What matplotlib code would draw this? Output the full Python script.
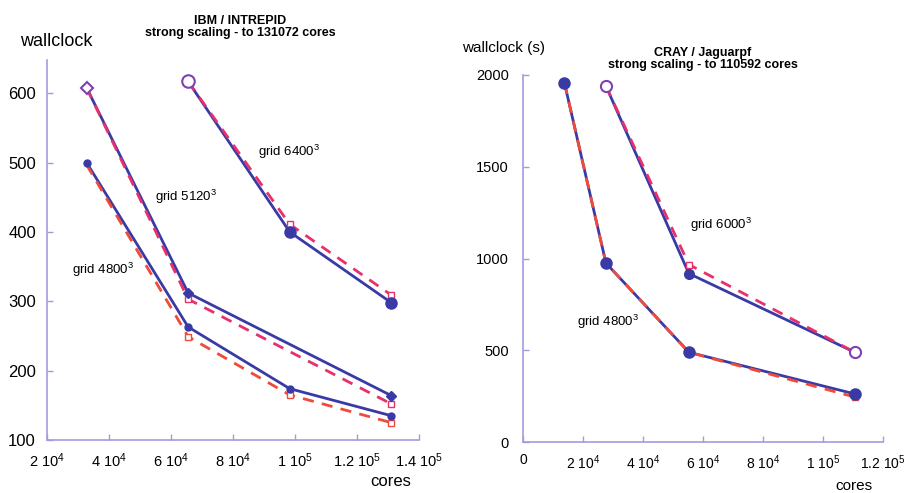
import numpy as np
import matplotlib
matplotlib.use('Agg')
import matplotlib.pyplot as plt
from matplotlib.ticker import FixedLocator, FixedFormatter

plt.rcParams['font.family'] = ['Liberation Sans', 'DejaVu Sans']
plt.rcParams['mathtext.fontset'] = 'custom'
plt.rcParams['mathtext.rm'] = 'Liberation Sans'
plt.rcParams['mathtext.it'] = 'Liberation Sans'

# IBM / INTREPID data
ibm_cores_4800 = [32768, 65536, 98304, 131072]
ibm_4800_meas = [500, 263, 174, 135]
ibm_4800_ideal = [497, 249, 165, 125]
ibm_cores_5120 = [32768, 65536, 131072]
ibm_5120_meas = [608, 312, 164]
ibm_5120_ideal = [608, 303, 152]
ibm_cores_6400 = [65536, 98304, 131072]
ibm_6400_meas = [617, 400, 298]
ibm_6400_ideal = [617, 411, 309]

# CRAY / Jaguarpf data
cray_cores_4800 = [13824, 27648, 55296, 110592]
cray_4800_meas = [1956, 975, 489, 262]
cray_4800_ideal = [1956, 975, 489, 245]
cray_cores_6000 = [27648, 55296, 110592]
cray_6000_meas = [1940, 918, 489]
cray_6000_ideal = [1940, 967, 489]

ibm_xticks = [20000, 40000, 60000, 80000, 100000, 120000, 140000]
ibm_xlabels = ['2 10$^4$', '4 10$^4$', '6 10$^4$', '8 10$^4$', '1 10$^5$', '1.2 10$^5$', '1.4 10$^5$']
ibm_yticks = [100, 200, 300, 400, 500, 600]
cray_xticks = [0, 20000, 40000, 60000, 80000, 100000, 120000]
cray_xlabels = ['0', '2 10$^4$', '4 10$^4$', '6 10$^4$', '8 10$^4$', '1 10$^5$', '1.2 10$^5$']
cray_yticks = [0, 500, 1000, 1500, 2000]

blue = '#3a3aa6'
orange = '#f04a38'
pink = '#e8306c'
spine = '#a09ddc'

W, H = 905, 493
fig = plt.figure(figsize=(W / 100, H / 100), dpi=100)


def style(ax, xt, xl, yt):
    for s in ['top', 'right']:
        ax.spines[s].set_visible(False)
    for s in ['left', 'bottom']:
        ax.spines[s].set_color(spine)
        ax.spines[s].set_linewidth(1.2)
    ax.xaxis.set_major_locator(FixedLocator(xt))
    ax.xaxis.set_major_formatter(FixedFormatter(xl))
    ax.set_yticks(yt)
    ax.tick_params(direction='in', color=spine, length=4, width=1, labelsize=10.5, pad=8)


def series(ax, x, meas, ideal, rcol, mk, ms, open_idx=()):
    # measured (solid blue) line, ideal (dashed) on top, then blue markers
    ax.plot(x, meas, '-', color=blue, lw=2, zorder=3, clip_on=False)
    ax.plot(x, ideal, '--', color=rcol, lw=2, dashes=(4, 3), marker='s', ms=5,
            mfc='white', mec=rcol, mew=1, markevery=slice(1, None), zorder=4, clip_on=False)
    filled = [i for i in range(len(x)) if i not in open_idx]
    ax.plot([x[i] for i in filled], [meas[i] for i in filled], linestyle='none',
            marker=mk, ms=ms, color=blue, zorder=5, clip_on=False)
    if open_idx:
        ax.plot([x[i] for i in open_idx], [meas[i] for i in open_idx], linestyle='none',
                marker=mk, ms=ms + 1, mfc='white', mec='#8040b0', mew=1.5, zorder=5,
                clip_on=False)


# left panel
ax1 = fig.add_axes([47 / W, 1 - 440 / H, 372 / W, 380 / H])
series(ax1, ibm_cores_4800, ibm_4800_meas, ibm_4800_ideal, orange, 'o', 5)
series(ax1, ibm_cores_5120, ibm_5120_meas, ibm_5120_ideal, pink, 'D', 5, open_idx=(0,))
series(ax1, ibm_cores_6400, ibm_6400_meas, ibm_6400_ideal, pink, 'o', 8, open_idx=(0,))
ax1.set_xlim(20000, 140000)
ax1.set_ylim(100, 648)
style(ax1, ibm_xticks, ibm_xlabels, ibm_yticks)
ax1.tick_params(axis='y', labelsize=12)
ax1.text(88000, 515, 'grid 6400$^3$', fontsize=9.5, va='center')
ax1.text(54800, 451, 'grid 5120$^3$', fontsize=9.5, va='center')
ax1.text(28000, 345, 'grid 4800$^3$', fontsize=9.5, va='center')

# right panel
ax2 = fig.add_axes([523 / W, 1 - 442 / H, 360 / W, 367 / H])
series(ax2, cray_cores_4800, cray_4800_meas, cray_4800_ideal, orange, 'o', 8)
series(ax2, cray_cores_6000, cray_6000_meas, cray_6000_ideal, pink, 'o', 7, open_idx=(0, 2))
ax2.set_xlim(0, 120000)
ax2.set_ylim(0, 2000)
style(ax2, cray_xticks, cray_xlabels, cray_yticks)
ax2.tick_params(axis='y', pad=10)
ax2.tick_params(axis='x', labelsize=10)
ax2.text(55700, 1183, 'grid 6000$^3$', fontsize=9.5, va='center')
ax2.text(18000, 654, 'grid 4800$^3$', fontsize=9.5, va='center')

# titles and axis labels
fig.text(240 / W, 1 - 27 / H, 'IBM / INTREPID\nstrong scaling - to 131072 cores',
         ha='center', va='center', fontsize=9, fontweight='bold', linespacing=1.0)
fig.text(703 / W, 1 - 59 / H, 'CRAY / Jaguarpf\nstrong scaling - to 110592 cores',
         ha='center', va='center', fontsize=9, fontweight='bold', linespacing=1.0)
fig.text(20 / W, 1 - 41 / H, 'wallclock', fontsize=13, va='center')
fig.text(370 / W, 1 - 482 / H, 'cores', fontsize=12, va='center')
fig.text(462 / W, 1 - 48 / H, 'wallclock (s)', fontsize=11, va='center')
fig.text(835 / W, 1 - 486 / H, 'cores', fontsize=11, va='center')

fig.savefig('out.png', dpi=100)
